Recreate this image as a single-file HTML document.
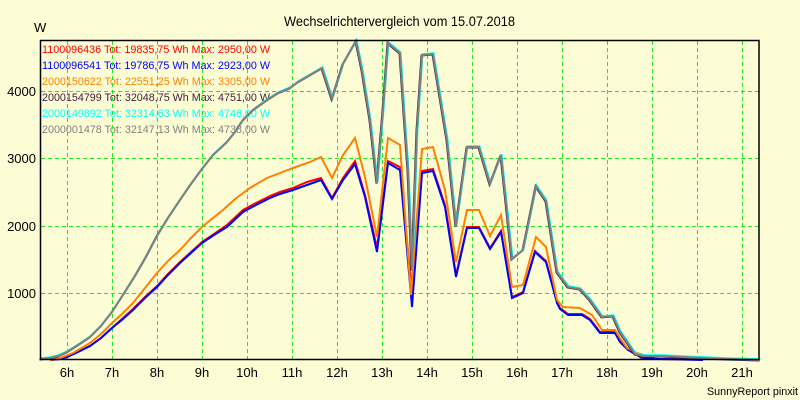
<!DOCTYPE html>
<html><head><meta charset="utf-8"><style>
html,body{margin:0;padding:0;background:#fdfdd5;}
svg{display:block;}
text{font-family:"Liberation Sans",Arial,sans-serif;}
</style></head><body>
<svg width="800" height="400" viewBox="0 0 800 400" xmlns="http://www.w3.org/2000/svg">
<rect x="0" y="0" width="800" height="400" fill="#fdfdd5"/>
<text x="284" y="26" font-size="13.5" fill="#000" textLength="231" lengthAdjust="spacingAndGlyphs">Wechselrichtervergleich vom 15.07.2018</text>
<text x="34" y="32" font-size="13" fill="#000">W</text>
<g font-size="11">
<text x="42" y="53" fill="#ff0000" textLength="228" lengthAdjust="spacingAndGlyphs">1100096436 Tot: 19835,75 Wh Max: 2950,00 W</text>
<text x="42" y="69" fill="#0000ff" textLength="228" lengthAdjust="spacingAndGlyphs">1100096541 Tot: 19786,75 Wh Max: 2923,00 W</text>
<text x="42" y="85" fill="#ff8000" textLength="228" lengthAdjust="spacingAndGlyphs">2000150622 Tot: 22551,25 Wh Max: 3305,00 W</text>
<text x="42" y="101" fill="#402040" textLength="228" lengthAdjust="spacingAndGlyphs">2000154799 Tot: 32048,75 Wh Max: 4751,00 W</text>
<text x="42" y="117" fill="#00ffff" textLength="228" lengthAdjust="spacingAndGlyphs">2000149892 Tot: 32314,63 Wh Max: 4746,00 W</text>
<text x="42" y="133" fill="#808080" textLength="228" lengthAdjust="spacingAndGlyphs">2000001478 Tot: 32147,13 Wh Max: 4738,00 W</text>
</g>
<g stroke="#22e622" stroke-width="1" stroke-dasharray="4,3" fill="none">
<path d="M67.5 41V359M112.5 41V359M157.5 41V359M202.5 41V359M247.5 41V359M292.5 41V359M337.5 41V359M382.5 41V359M427.5 41V359M472.5 41V359M517.5 41V359M562.5 41V359M607.5 41V359M652.5 41V359M697.5 41V359M742.5 41V359"/>
<path d="M41 91.5H759M41 158.5H759M41 226.5H759M41 293.5H759"/>
</g>
<g font-size="13" fill="#000" text-anchor="end">
<text x="36" y="96">4000</text>
<text x="36" y="163">3000</text>
<text x="36" y="231">2000</text>
<text x="36" y="298">1000</text>
</g>
<g font-size="13" fill="#000" text-anchor="middle">
<text x="67" y="377">6h</text>
<text x="112" y="377">7h</text>
<text x="157" y="377">8h</text>
<text x="202" y="377">9h</text>
<text x="247" y="377">10h</text>
<text x="292" y="377">11h</text>
<text x="337" y="377">12h</text>
<text x="382" y="377">13h</text>
<text x="427" y="377">14h</text>
<text x="472" y="377">15h</text>
<text x="517" y="377">16h</text>
<text x="562" y="377">17h</text>
<text x="607" y="377">18h</text>
<text x="652" y="377">19h</text>
<text x="697" y="377">20h</text>
<text x="742" y="377">21h</text>
</g>
<text x="707" y="395" font-size="11" fill="#000" textLength="91" lengthAdjust="spacingAndGlyphs">SunnyReport pinxit</text>
<defs>
<polyline id="g" points="40,359 50,358 58,356 67,352 78,345 90,337 101,326 112,312 123,295 135,276 146,257 157,236 168,218 180,200 191,184 202,169 213,155 227,142 235,132 243,120 253,110 267,100 278,93 290,88 298,82 310,75 322,68 332,99 343,64 356,41 362,70 370,120 377,183 383,110 388,43 400,53 404,113 408,170 412,270 417,130 422,55 433,54 440,97 447,140 456,226 467,147 479,147 490,184 501,155 512,259 523,250 536,186 546,201 557,272 568,287 580,289 590,300 602,317 613,316 620,332 627,342 635,354 643,356 663,356 682,357 727,359 760,360"/>
</defs>
<g fill="none" stroke-width="2" stroke-linejoin="miter">
<polyline stroke="#ff0000" points="50,360 60,359 67,357 78,352 90,346 101,338 112,328 123,318 133,309 145,297 157,286 168,274 180,262 191,252 202,242 214,234 227,225 243,210 256,203 270,196 280,192 293,188 307,182 321,178 332,198 343,178 355,161 365,195 377,248 388,161 400,167 412,293 422,171 433,169 445,205 456,275 467,227 479,227 490,248 501,231 512,297 523,292 535,251 546,261 557,302 560,308 568,314 582,314 590,319 600,332 615,332 620,341 628,349 637,355 643,359 700,359"/>
<polyline stroke="#0000ff" points="50,360 60,359 67,357 78,352 90,346 101,338 112,328 123,319 133,310 145,298 157,287 168,275 180,263 191,253 202,243 214,235 227,227 243,212 256,205 270,198 280,194 293,190 307,185 321,180 332,199 343,180 355,164 365,197 377,252 388,163 400,170 412,307 422,173 433,171 445,207 456,277 467,228 479,228 490,249 501,232 512,298 523,293 535,252 546,262 557,303 560,309 568,315 582,315 590,320 600,333 615,333 620,342 628,350 637,355 643,358 660,359 703,360"/>
<polyline stroke="#ff8000" points="50,360 60,358 73,353 90,343 101,334 112,323 123,313 133,303 145,288 157,273 168,261 180,250 191,238 202,227 213,218 223,210 235,199 250,188 267,178 280,173 293,168 310,162 321,157 332,178 343,155 355,138 365,177 377,237 388,138 400,145 411,295 422,149 433,147 445,190 456,262 467,210 479,210 490,236 501,215 512,287 523,285 536,237 546,247 557,300 563,307 580,308 592,315 602,330 615,330 620,338 627,348 637,353 647,356 707,358 750,359 757,360"/>
<use href="#g" stroke="#402040" transform="translate(-0.5,0.5)"/>
<use href="#g" stroke="#00ffff" transform="translate(0.5,-0.8)"/>
<use href="#g" stroke="#808080"/>
</g>
<rect x="40.5" y="40.5" width="718.5" height="319" fill="none" stroke="#000" stroke-width="1.5"/>
</svg>
</body></html>
